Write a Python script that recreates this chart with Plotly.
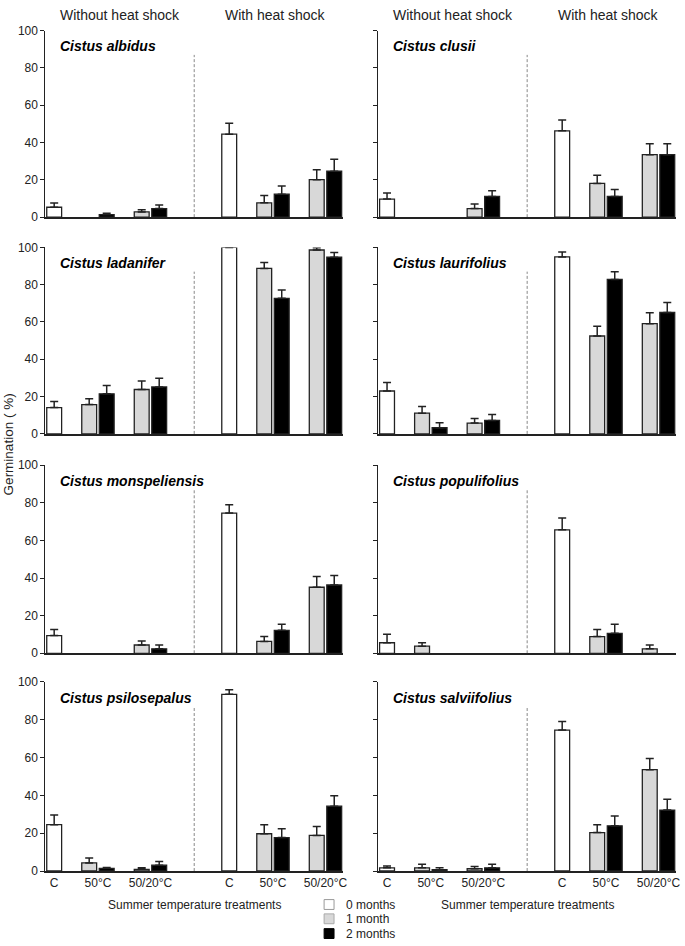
import plotly.graph_objects as go

# ---- data (germination %, mean and SE) ----
SPECIES = ["Cistus albidus", "Cistus clusii", "Cistus ladanifer", "Cistus laurifolius",
           "Cistus monspeliensis", "Cistus populifolius", "Cistus psilosepalus", "Cistus salviifolius"]
SHOCK = ["Without heat shock", "With heat shock"]
TREATMENTS = ["C", "50°C", "50/20°C"]
MONTHS = ["0 months", "1 month", "2 months"]

# order of the bars in every panel: (shock, treatment, storage time)
BAR_KEYS = [(s, t, m) for s in range(2)
            for t, m in [(0, 0), (1, 1), (1, 2), (2, 1), (2, 2)]]

albidus = [5.3, None, 1.4, 2.8, 4.6, 44.5, 7.7, 12.3, 20.1, 24.6]
albidus_err = [2.3, None, 0.7, 1.2, 1.9, 5.9, 3.9, 4.4, 5.3, 6.4]
clusii = [9.7, None, None, 4.6, 11.1, 46.3, 18.1, 11.1, 33.5, 33.5]
clusii_err = [3.3, None, None, 2.4, 3.0, 5.8, 4.4, 3.7, 5.9, 5.9]
ladanifer = [14.1, 15.7, 21.5, 23.8, 25.2, 100, 88.7, 72.7, 98.6, 94.7]
ladanifer_err = [3.2, 3.1, 4.4, 4.5, 4.6, 0, 3.2, 4.4, 1.2, 2.5]
laurifolius = [23.0, 11.1, 3.3, 5.8, 7.2, 94.9, 52.5, 82.8, 59.1, 65.1]
laurifolius_err = [4.5, 3.6, 2.7, 2.4, 3.2, 2.6, 5.2, 4.2, 5.8, 5.4]
monspeliensis = [9.4, None, None, 4.4, 2.4, 74.5, 6.3, 12.2, 35.1, 36.3]
monspeliensis_err = [3.3, None, None, 2.1, 2.0, 4.4, 2.6, 3.2, 5.7, 5.1]
populifolius = [5.6, 3.8, None, None, None, 65.6, 8.9, 10.6, 2.4, None]
populifolius_err = [4.5, 1.8, None, None, None, 6.3, 3.8, 4.8, 2.0, None]
psilosepalus = [24.5, 4.3, 1.4, 0.9, 3.1, 93.4, 19.7, 17.7, 18.8, 34.3]
psilosepalus_err = [5.1, 2.6, 0.5, 0.8, 1.9, 2.4, 4.8, 4.6, 4.7, 5.5]
salviifolius = [1.7, 1.7, 0.7, 1.2, 1.7, 74.5, 20.3, 23.9, 53.6, 32.2]
salviifolius_err = [0.9, 1.9, 1.0, 1.2, 1.9, 4.5, 4.1, 5.2, 5.9, 5.7]

VALUES = [albidus, clusii, ladanifer, laurifolius, monspeliensis, populifolius, psilosepalus, salviifolius]
ERRORS = [albidus_err, clusii_err, ladanifer_err, laurifolius_err, monspeliensis_err,
          populifolius_err, psilosepalus_err, salviifolius_err]

# ---- layout constants ----
W, H = 685, 946
FONT = "Liberation Sans, Arial, sans-serif"
INK = "#222222"
FILLS = ["white", "#d8d8d8", "black"]
COL_PX = [(45.7, 345.0), (380.5, 680.0)]
ROW_PX = [(24, 213.3), (244, 433.3), (465, 656), (685, 877)]
TREAT_POS = [0, 2.5, 5.5]
MONTH_OFF = [0, -0.5, 0.5]
SHIFT = 10
DIVIDER = 8


def xpos(s, t, m):
    return SHIFT * s + TREAT_POS[t] + MONTH_OFF[m]


def px_x(p):
    return p / W


def px_y(p):
    return 1 - p / H


fig = go.Figure()
layout = {}
annotations = []
shapes = []

for i, name in enumerate(SPECIES):
    r, c = divmod(i, 2)
    n = "" if i == 0 else str(i + 1)
    xa, ya = "x" + n, "y" + n
    vals, errs = VALUES[i], ERRORS[i]
    for m in range(3):
        keys = [k for k, key in enumerate(BAR_KEYS) if key[2] == m]
        fig.add_trace(go.Bar(
            x=[xpos(*BAR_KEYS[k]) for k in keys],
            y=[vals[k] for k in keys],
            width=0.85, name=MONTHS[m], showlegend=False,
            xaxis=xa, yaxis=ya,
            marker=dict(color=FILLS[m], line=dict(color=INK, width=1.3)),
            error_y=dict(type="data", symmetric=False,
                         array=[errs[k] for k in keys],
                         arrayminus=[0 if errs[k] is not None else None for k in keys],
                         color=INK, thickness=1.5, width=4),
        ))

    bottom = r == 3
    tickvals = [SHIFT * s + p for s in range(2) for p in TREAT_POS]
    layout["xaxis" + n] = dict(
        domain=[px_x(COL_PX[c][0]), px_x(COL_PX[c][1])], anchor=ya,
        range=[-0.5, 16.5], showgrid=False, zeroline=False,
        showline=True, linecolor=INK, linewidth=1.5, ticks="",
        tickvals=tickvals, ticktext=TREATMENTS * 2, showticklabels=bottom,
        tickfont=dict(size=12, color=INK, family=FONT), fixedrange=True,
    )
    layout["yaxis" + n] = dict(
        domain=[px_y(ROW_PX[r][1]), px_y(ROW_PX[r][0])], anchor=xa,
        range=[0, 100], tickvals=[0, 20, 40, 60, 80, 100],
        showgrid=False, zeroline=False, showline=True, linecolor=INK, linewidth=1.2,
        ticks="outside", ticklen=4, tickwidth=1.2, tickcolor=INK,
        showticklabels=(c == 0), tickfont=dict(size=12, color=INK, family=FONT),
        fixedrange=True,
    )

    shapes.append(dict(type="line", xref=xa, yref=ya, x0=DIVIDER, x1=DIVIDER, y0=0, y1=87,
                       line=dict(color="#888888", width=1, dash="3px,2px")))
    annotations.append(dict(text="<b><i>%s</i></b>" % name, xref=xa, yref=ya, x=0.2, y=91.5,
                            xanchor="left", yanchor="middle", showarrow=False,
                            font=dict(size=14, color="black", family=FONT)))
    if r == 0:
        for s, hx in zip(range(2), [3.75, 12.65]):
            annotations.append(dict(text=SHOCK[s], xref=xa, yref="paper", x=hx, y=px_y(8),
                                    xanchor="center", yanchor="middle", showarrow=False,
                                    font=dict(size=14, color=INK, family=FONT)))
    if bottom:
        annotations.append(dict(text="Summer temperature treatments", xref=xa, yref="paper",
                                x=DIVIDER, y=px_y(911), xanchor="center", yanchor="middle",
                                showarrow=False, font=dict(size=12, color=INK, family=FONT)))

annotations.append(dict(text="Germination ( %)", xref="paper", yref="paper",
                        x=px_x(8), y=px_y(444), textangle=-90, showarrow=False,
                        xanchor="center", yanchor="middle",
                        font=dict(size=13.5, color=INK, family=FONT)))

# legend drawn by hand (tighter rows than plotly's own legend)
legend_edges = ["#999999", "#aaaaaa", "black"]
for m, cy in enumerate([911, 925.5, 940.5]):
    shapes.append(dict(type="rect", xref="paper", yref="paper",
                       x0=px_x(326), x1=px_x(336), y0=px_y(cy + 5), y1=px_y(cy - 5),
                       fillcolor=FILLS[m], line=dict(color=legend_edges[m], width=1)))
    annotations.append(dict(text=MONTHS[m], xref="paper", yref="paper", x=px_x(346), y=px_y(cy),
                            xanchor="left", yanchor="middle", showarrow=False,
                            font=dict(size=12, color=INK, family=FONT)))

fig.update_layout(
    width=W, height=H, margin=dict(l=0, r=0, t=0, b=0),
    paper_bgcolor="white", plot_bgcolor="white",
    barmode="overlay", showlegend=False,
    font=dict(family=FONT, color=INK),
    shapes=shapes, annotations=annotations, **layout,
)
# page body has an 8px margin by default; drop it so the figure fills the window
fig.write_html("out.html", config={"displayModeBar": False},
               post_script="document.body.style.margin='0';document.body.style.overflow='hidden';")
